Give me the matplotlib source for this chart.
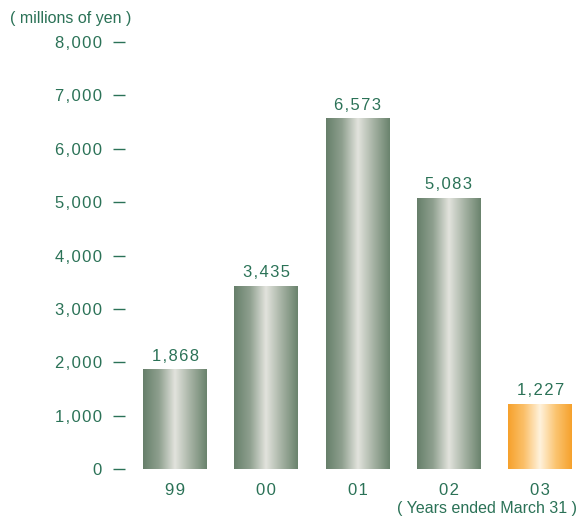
import numpy as np
import matplotlib
matplotlib.use("Agg")
import matplotlib.pyplot as plt
from matplotlib.colors import LinearSegmentedColormap

years = ["99", "00", "01", "02", "03"]
values = [1868, 3435, 6573, 5083, 1227]
yticks = [0, 1000, 2000, 3000, 4000, 5000, 6000, 7000, 8000]

TXT = "#2b7257"
HAIR = "\u200a"

plt.rcParams["font.family"] = ["Liberation Sans", "DejaVu Sans"]

green = LinearSegmentedColormap.from_list(
    "g", ["#667f6a", "#8fa08f", "#e2e3dd", "#a4b1a2", "#6a836d"])
orange = LinearSegmentedColormap.from_list(
    "o", ["#f6a12c", "#fbc06a", "#fff2dc", "#fbc470", "#f6a12c"])


def spaced(s):
    return HAIR.join(s)


fig = plt.figure(figsize=(5.78, 5.18), dpi=100)
ax = fig.add_axes([125 / 578, 49 / 518, 453 / 578, 427 / 518])
ax.set_xlim(-0.548, 4.414)
ax.set_ylim(0, 8000)
for s in ax.spines.values():
    s.set_visible(False)

x = np.arange(len(years))
width = 0.70
bars = ax.bar(x, values, width=width, color="none", edgecolor="none")
grad = np.linspace(0, 1, 256).reshape(1, -1)
for i, (b, v) in enumerate(zip(bars, values)):
    cmap = orange if i == len(values) - 1 else green
    im = ax.imshow(grad, cmap=cmap, aspect="auto",
                   extent=[b.get_x(), b.get_x() + b.get_width(), 0, v],
                   zorder=2)
    im.set_clip_path(b)
    ax.text(b.get_x() + b.get_width() / 2, v + 100, spaced(f"{v:,}"),
            ha="center", va="bottom", color=TXT, fontsize=12)

ax.set_yticks(yticks)
ax.set_yticklabels([spaced(f"{t:,}") for t in yticks], fontsize=12, color=TXT)
ax.tick_params(axis="y", length=8.6, width=1.0, color=TXT, pad=8, direction="out")
ax.set_xticks(x)
ax.set_xticklabels([spaced(y) for y in years], fontsize=12, color=TXT)
ax.tick_params(axis="x", length=0, pad=10)

fig.text(10 / 578, 1 - 18 / 518, "( millions of yen )", fontsize=11.5,
         color=TXT, ha="left", va="center")
fig.text(577 / 578, 1 - 508 / 518, "( Years ended March 31 )", fontsize=11.5,
         color=TXT, ha="right", va="center")

fig.savefig("out.png", dpi=100)
